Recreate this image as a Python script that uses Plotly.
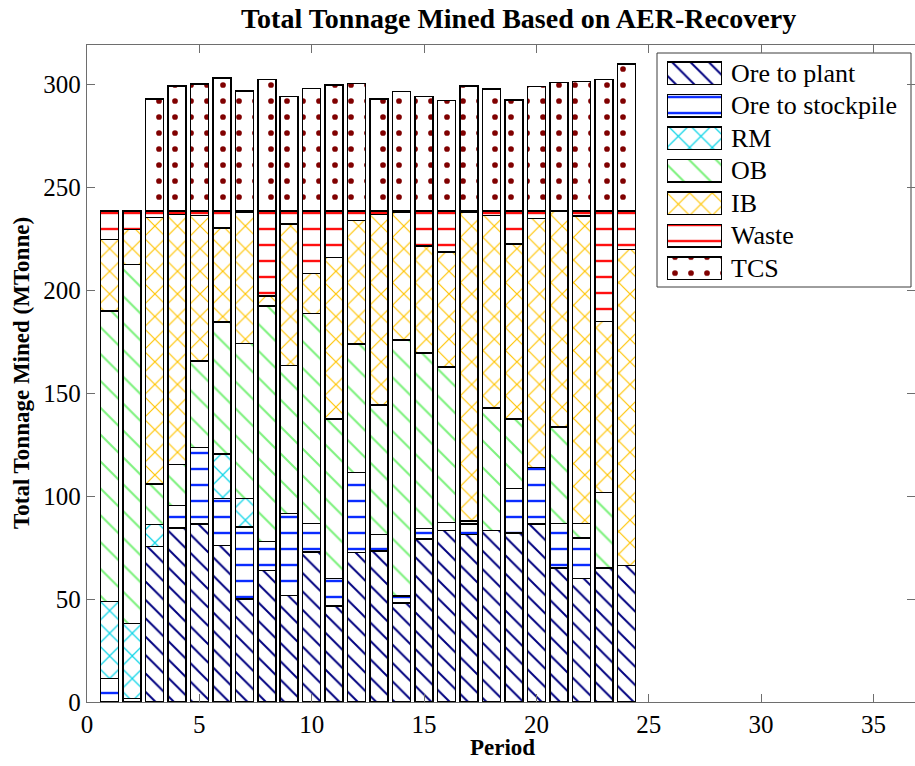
import plotly.graph_objects as go

# ---- data (MTonne per period) ----
periods = list(range(1, 25))

ore_to_plant = [0, 0, 75.5, 84.5, 86.5, 76.1, 50.0, 64.0, 51.7, 72.9, 46.6, 72.7,
                73.4, 48.1, 79.1, 83.3, 81.5, 83.4, 82.0, 86.5, 65.0, 60.0, 65.0, 66.3]
ore_to_stockpile = [11.4, 1.8, 0, 11.1, 37.1, 22.9, 35.0, 14.1, 39.8, 13.8, 13.4, 38.8,
                    8.1, 3.4, 5.3, 4.0, 5.0, 0, 21.7, 27.4, 21.8, 19.7, 0, 0]
rm = [37.5, 36.4, 10.7, 0, 0, 21.4, 14.0, 0, 0, 0, 0, 0,
      0, 0, 0, 0, 0, 0, 0, 0, 0, 0, 0, 0]
ob = [141.1, 174.5, 19.7, 19.9, 42.1, 64.2, 75.3, 114.3, 72.1, 102.0, 77.4, 62.5,
      62.7, 124.3, 85.2, 75.5, 1.5, 59.5, 33.8, 0, 46.8, 7.0, 36.9, 0]
ib = [34.8, 16.8, 129.6, 121.3, 70.8, 45.7, 63.5, 4.9, 68.7, 19.5, 78.7, 59.9,
      92.6, 62.3, 52.0, 55.9, 149.9, 93.6, 85.0, 121.1, 105.0, 149.5, 83.1, 153.5]
waste = [13.8, 9.1, 3.1, 1.8, 2.1, 8.3, 0.8, 41.3, 6.3, 30.4, 22.5, 4.7,
         1.8, 0.5, 17.0, 19.9, 0.7, 2.1, 16.1, 3.6, 0, 2.4, 53.6, 18.8]
tcs = [0, 0, 54.3, 60.7, 61.7, 64.6, 58.3, 64.0, 55.7, 59.4, 61.1, 62.0,
       54.3, 58.0, 55.6, 53.6, 60.7, 59.3, 53.9, 60.6, 62.4, 62.9, 64.0, 71.4]

series_names = ["Ore to plant", "Ore to stockpile", "RM", "OB", "IB", "Waste", "TCS"]
series_values = [ore_to_plant, ore_to_stockpile, rm, ob, ib, waste, tcs]

x_ticks = [0, 5, 10, 15, 20, 25, 30, 35]
y_ticks = [0, 50, 100, 150, 200, 250, 300]

# ---- hatch styles ----
styles = {
    "Ore to plant":     dict(shape="\\", fgcolor="#000080", size=13, solidity=0.15),
    "Ore to stockpile": dict(shape="-", fgcolor="#0a2cff", size=16, solidity=0.15),
    "RM":               dict(shape="x", fgcolor="#12d6e8", size=16, solidity=0.15),
    "OB":               dict(shape="\\", fgcolor="#7ef27e", size=19, solidity=0.11),
    "IB":               dict(shape="x", fgcolor="#ffc400", size=16, solidity=0.14),
    "Waste":            dict(shape="-", fgcolor="#ff1010", size=16, solidity=0.15),
    "TCS":              dict(shape=".", fgcolor="#800000", size=16, solidity=0.1),
}

FONT = "Liberation Serif"
W, H = 915, 766
L, R, T, B = 87, 0, 45, 64
PW, PH = W - L - R, H - T - B


def px_x(p):
    return (p - L) / PW


def px_y(p):
    return (H - B - p) / PH


def marker_for(name):
    st = styles[name]
    return dict(
        color="white",
        line=dict(color="black", width=1.5),
        pattern=dict(shape=st["shape"], fgcolor=st["fgcolor"], bgcolor="white",
                     fgopacity=1, size=st["size"], solidity=st["solidity"],
                     fillmode="replace"),
    )


fig = go.Figure()

for name, vals in zip(series_names, series_values):
    fig.add_trace(go.Bar(x=periods, y=vals, name=name, width=0.8,
                         marker=marker_for(name), showlegend=False))

# legend swatches drawn as short horizontal bars in their own small axes
for name in series_names:
    fig.add_trace(go.Bar(x=[1], y=[name], orientation="h", width=0.7,
                         marker=marker_for(name), showlegend=False,
                         xaxis="x2", yaxis="y2", hoverinfo="skip"))

axis_common = dict(
    showgrid=False, zeroline=False, showline=True, linecolor="#6e6e6e", linewidth=1.3,
    mirror="ticks", ticks="inside", ticklen=8, tickcolor="#6e6e6e", tickwidth=1.2,
    tickfont=dict(family=FONT, size=25, color="black"),
)

# legend layout in pixels
leg_x0, leg_x1, leg_y0, leg_y1 = 657, 911, 53, 287
row_top, row_step = 73.3, 32.5
sw_x0, sw_x1 = 667, 722
text_x = 729

fig.update_layout(
    width=W, height=H,
    margin=dict(l=L, r=R, t=T, b=B),
    paper_bgcolor="white", plot_bgcolor="white",
    barmode="stack", bargap=0.2,
    xaxis=dict(range=[0, PW / 22.47], tickvals=x_ticks, ticktext=[str(v) for v in x_ticks],
               **axis_common),
    yaxis=dict(range=[0, PH / 2.058], tickvals=y_ticks, ticktext=[str(v) for v in y_ticks],
               **axis_common),
    xaxis2=dict(domain=[px_x(sw_x0), px_x(sw_x1)], range=[0, 1], anchor="y2",
                visible=False, fixedrange=True),
    yaxis2=dict(domain=[px_y(row_top + 6.5 * row_step), px_y(row_top - 0.5 * row_step)],
                anchor="x2", visible=False, type="category",
                categoryorder="array", categoryarray=series_names,
                autorange="reversed", fixedrange=True),
    showlegend=False,
    shapes=[dict(type="rect", xref="paper", yref="paper",
                 x0=px_x(leg_x0), x1=px_x(leg_x1), y0=px_y(leg_y1), y1=px_y(leg_y0),
                 line=dict(color="#3c3c3c", width=1), fillcolor="white", layer="below")],
)

annotations = [
    dict(text="<b>Total Tonnage Mined Based on AER-Recovery</b>", xref="paper", yref="paper",
         x=px_x(518), y=px_y(18), xanchor="center", yanchor="middle", showarrow=False,
         font=dict(family=FONT, size=28, color="black")),
    dict(text="<b>Period</b>", xref="paper", yref="paper",
         x=px_x(502), y=px_y(748), xanchor="center", yanchor="middle", showarrow=False,
         font=dict(family=FONT, size=23, color="black")),
    dict(text="<b>Total Tonnage Mined (MTonne)</b>", xref="paper", yref="paper",
         x=px_x(21), y=px_y(373), xanchor="center", yanchor="middle", showarrow=False,
         textangle=-90, font=dict(family=FONT, size=23, color="black")),
]
for i, name in enumerate(series_names):
    annotations.append(dict(text=name, xref="paper", yref="paper",
                            x=px_x(text_x), y=px_y(row_top + i * row_step),
                            xanchor="left", yanchor="middle", showarrow=False,
                            font=dict(family=FONT, size=26, color="black")))
fig.update_layout(annotations=annotations)

fig.write_html("out.html")
